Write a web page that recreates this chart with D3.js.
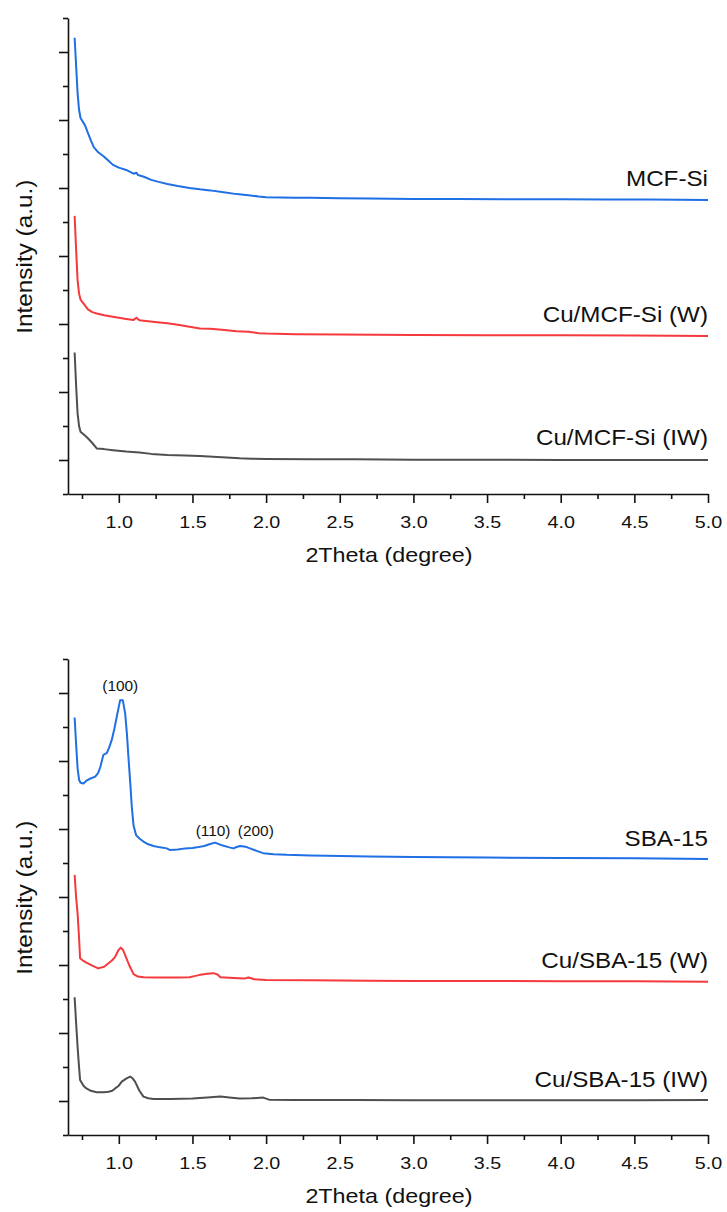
<!DOCTYPE html>
<html>
<head>
<meta charset="utf-8">
<script src="https://cdn.jsdelivr.net/npm/d3@7"></script>
<style>
  body { margin: 0; background: #fff; }
  text { font-family: "Liberation Sans", Arial, sans-serif; fill: #111; }
</style>
</head>
<body>
<svg id="chart" width="727" height="1212"></svg>
<script>
// values: [2theta, intensity in units of minor y ticks]
var mcfSi = [[0.70,13.42],[0.71,12.6],[0.72,11.8],[0.73,11.3],[0.74,11.06],[0.77,10.85],[0.79,10.62],[0.81,10.4],[0.83,10.2],[0.86,10.05],[0.90,9.92],[0.93,9.8],[0.96,9.68],[1.00,9.6],[1.05,9.53],[1.10,9.42],[1.12,9.45],[1.13,9.38],[1.17,9.33],[1.22,9.24],[1.27,9.18],[1.33,9.12],[1.40,9.06],[1.48,9.0],[1.55,8.96],[1.62,8.93],[1.70,8.88],[1.80,8.82],[1.88,8.79],[1.95,8.75],[2.0,8.73],[2.1,8.72],[2.2,8.71],[2.3,8.71],[2.5,8.70],[2.7,8.69],[3.0,8.68],[3.3,8.68],[3.6,8.67],[4.0,8.67],[4.3,8.66],[4.6,8.66],[5.0,8.65]]
var cuMcfW = [[0.70,8.18],[0.71,7.2],[0.72,6.29],[0.73,5.9],[0.74,5.72],[0.77,5.55],[0.79,5.43],[0.82,5.35],[0.85,5.31],[0.90,5.26],[0.95,5.22],[0.99,5.19],[1.05,5.15],[1.10,5.12],[1.12,5.18],[1.14,5.11],[1.2,5.08],[1.26,5.05],[1.33,5.02],[1.40,4.98],[1.48,4.92],[1.55,4.87],[1.62,4.86],[1.70,4.83],[1.80,4.79],[1.88,4.77],[1.95,4.73],[2.0,4.72],[2.2,4.70],[2.5,4.69],[3.0,4.68],[3.5,4.67],[4.0,4.67],[4.5,4.66],[5.0,4.65]]
var cuMcfIW = [[0.70,4.16],[0.71,3.2],[0.72,2.37],[0.73,2.0],[0.74,1.83],[0.77,1.72],[0.79,1.64],[0.82,1.5],[0.85,1.34],[0.90,1.32],[0.96,1.29],[1.05,1.25],[1.14,1.22],[1.22,1.18],[1.33,1.15],[1.45,1.13],[1.55,1.12],[1.7,1.08],[1.82,1.05],[1.9,1.04],[2.0,1.03],[2.3,1.02],[2.6,1.02],[3.0,1.01],[3.5,1.01],[4.0,1.0],[4.5,1.0],[5.0,1.0]]

var sba15 = [[0.70,12.28],[0.71,11.5],[0.72,10.79],[0.73,10.45],[0.74,10.36],[0.76,10.34],[0.78,10.42],[0.80,10.47],[0.84,10.54],[0.86,10.65],[0.875,10.83],[0.895,11.18],[0.918,11.23],[0.935,11.4],[0.952,11.62],[0.97,11.95],[0.986,12.3],[1.0,12.6],[1.009,12.79],[1.027,12.79],[1.043,12.4],[1.055,11.8],[1.065,11.13],[1.077,10.4],[1.088,9.66],[1.10,9.1],[1.117,8.82],[1.14,8.72],[1.167,8.63],[1.2,8.55],[1.235,8.5],[1.28,8.46],[1.326,8.43],[1.348,8.38],[1.4,8.40],[1.45,8.43],[1.5,8.44],[1.53,8.46],[1.58,8.5],[1.62,8.56],[1.654,8.6],[1.7,8.52],[1.75,8.46],[1.778,8.43],[1.80,8.47],[1.824,8.5],[1.86,8.48],[1.89,8.43],[1.94,8.35],[1.98,8.29],[2.05,8.26],[2.14,8.24],[2.3,8.22],[2.41,8.21],[2.7,8.19],[3.0,8.18],[3.5,8.16],[4.0,8.15],[4.5,8.14],[5.0,8.12]]
var cuSbaW = [[0.70,7.65],[0.71,7.0],[0.72,6.52],[0.73,5.8],[0.737,5.2],[0.76,5.12],[0.78,5.07],[0.82,4.98],[0.86,4.9],[0.90,4.95],[0.93,5.05],[0.955,5.14],[0.975,5.24],[0.995,5.42],[1.013,5.51],[1.028,5.45],[1.043,5.29],[1.07,5.0],[1.10,4.73],[1.13,4.66],[1.167,4.64],[1.25,4.63],[1.326,4.63],[1.4,4.63],[1.48,4.64],[1.52,4.68],[1.552,4.71],[1.6,4.74],[1.643,4.76],[1.67,4.72],[1.69,4.64],[1.78,4.62],[1.85,4.6],[1.88,4.63],[1.92,4.58],[2.0,4.56],[2.3,4.55],[2.7,4.54],[3.0,4.53],[3.5,4.53],[4.0,4.52],[4.5,4.52],[5.0,4.51]]
var cuSbaIW = [[0.70,4.05],[0.71,3.3],[0.72,2.6],[0.73,2.0],[0.737,1.62],[0.76,1.45],[0.78,1.37],[0.81,1.3],[0.85,1.26],[0.90,1.26],[0.93,1.27],[0.955,1.3],[0.975,1.37],[1.0,1.45],[1.02,1.57],[1.05,1.66],[1.077,1.72],[1.095,1.66],[1.11,1.57],[1.14,1.3],[1.167,1.13],[1.2,1.08],[1.235,1.06],[1.35,1.06],[1.5,1.07],[1.6,1.1],[1.69,1.13],[1.75,1.1],[1.82,1.07],[1.9,1.08],[1.98,1.1],[2.02,1.04],[2.2,1.03],[2.6,1.03],[3.0,1.02],[3.5,1.02],[4.0,1.02],[4.5,1.02],[5.0,1.03]]

var topNames = ['MCF-Si', 'Cu/MCF-Si (W)', 'Cu/MCF-Si (IW)']
var bottomNames = ['SBA-15', 'Cu/SBA-15 (W)', 'Cu/SBA-15 (IW)']
var topLabelPos = [9.06, 5.07, 1.44]   // label baselines, in y units
var bottomLabelPos = [8.51, 4.9, 1.42]
var peakLabels = ['(100)', '(110)', '(200)']
var peakPos = [[1.01, 13.05], [1.64, 8.8], [1.93, 8.8]]

var xMajor = [1.0, 1.5, 2.0, 2.5, 3.0, 3.5, 4.0, 4.5, 5.0]
var xMinor = [0.75, 1.25, 1.75, 2.25, 2.75, 3.25, 3.75, 4.25, 4.75]
var yMajor = [1, 3, 5, 7, 9, 11, 13]
var yMinor = [0, 2, 4, 6, 8, 10, 12, 14]

var colors = ['#1f6fe5', '#f5393c', '#4f4f4f']

var svg = d3.select('#chart')
svg.append('rect').attr('width', 727).attr('height', 1212).attr('fill', '#fff')

var xScale = d3.scaleLinear().domain([0.655, 5.0]).range([68, 708])

function stretch(sel, k) {
    sel.each(function () {
        var w = this.getComputedTextLength()
        d3.select(this).attr('textLength', w * k).attr('lengthAdjust', 'spacingAndGlyphs')
    })
}

function drawPanel(top, series, names, labelPos) {
    var g = svg.append('g').attr('transform', 'translate(0,' + top + ')')
    var yScale = d3.scaleLinear().domain([0, 14]).range([494, 18])

    var line = d3.line()
        .x(function (d) { return xScale(d[0]) })
        .y(function (d) { return yScale(d[1]) })

    g.selectAll('path.series')
        .data(series)
        .enter()
        .append('path')
        .attr('class', 'series')
        .attr('d', line)
        .attr('fill', 'none')
        .attr('stroke', function (d, i) { return colors[i] })
        .attr('stroke-width', 2)
        .attr('stroke-linejoin', 'round')

    // axes: majors carry labels, minors are shorter
    var xAxis = g.append('g').attr('transform', 'translate(0,494)')
        .call(d3.axisBottom(xScale).tickValues(xMajor).tickSize(9).tickSizeOuter(0).tickPadding(13)
            .tickFormat(d3.format('.1f')))
    xAxis.append('g').call(d3.axisBottom(xScale).tickValues(xMinor).tickSize(5).tickFormat(''))
        .select('.domain').remove()
    var yAxis = g.append('g').attr('transform', 'translate(68,0)')
        .call(d3.axisLeft(yScale).tickValues(yMajor).tickSize(9).tickSizeOuter(0).tickFormat(''))
    yAxis.append('g').call(d3.axisLeft(yScale).tickValues(yMinor).tickSize(5).tickFormat(''))
        .select('.domain').remove()
    g.selectAll('.domain, .tick line').attr('stroke', '#111').attr('stroke-width', 1.6)
    xAxis.selectAll('.tick text').style('font-size', '17px').attr('fill', '#111')
        .call(stretch, 1.16)

    g.append('text')
        .attr('x', 389).attr('y', 562)
        .attr('text-anchor', 'middle')
        .style('font-size', '21px')
        .text('2Theta (degree)')
        .call(stretch, 1.11)

    g.append('text')
        .attr('transform', 'translate(31.5,256.7) rotate(-90)')
        .attr('text-anchor', 'middle')
        .style('font-size', '21.5px')
        .text('Intensity (a.u.)')
        .call(stretch, 1.13)

    g.selectAll('text.name')
        .data(names)
        .enter()
        .append('text')
        .attr('class', 'name')
        .attr('x', 708)
        .attr('y', function (d, i) { return yScale(labelPos[i]) })
        .attr('text-anchor', 'end')
        .style('font-size', '22px')
        .text(function (d) { return d })
        .call(stretch, 1.1)
    return { g: g, y: yScale }
}

drawPanel(0, [mcfSi, cuMcfW, cuMcfIW], topNames, topLabelPos)
var bottom = drawPanel(641, [sba15, cuSbaW, cuSbaIW], bottomNames, bottomLabelPos)

bottom.g.selectAll('text.peak')
    .data(peakLabels)
    .enter()
    .append('text')
    .attr('class', 'peak')
    .attr('x', function (d, i) { return xScale(peakPos[i][0]) })
    .attr('y', function (d, i) { return bottom.y(peakPos[i][1]) })
    .attr('text-anchor', 'middle')
    .style('font-size', '14px')
    .text(function (d) { return d })
    .call(stretch, 1.1)
</script>
</body>
</html>
